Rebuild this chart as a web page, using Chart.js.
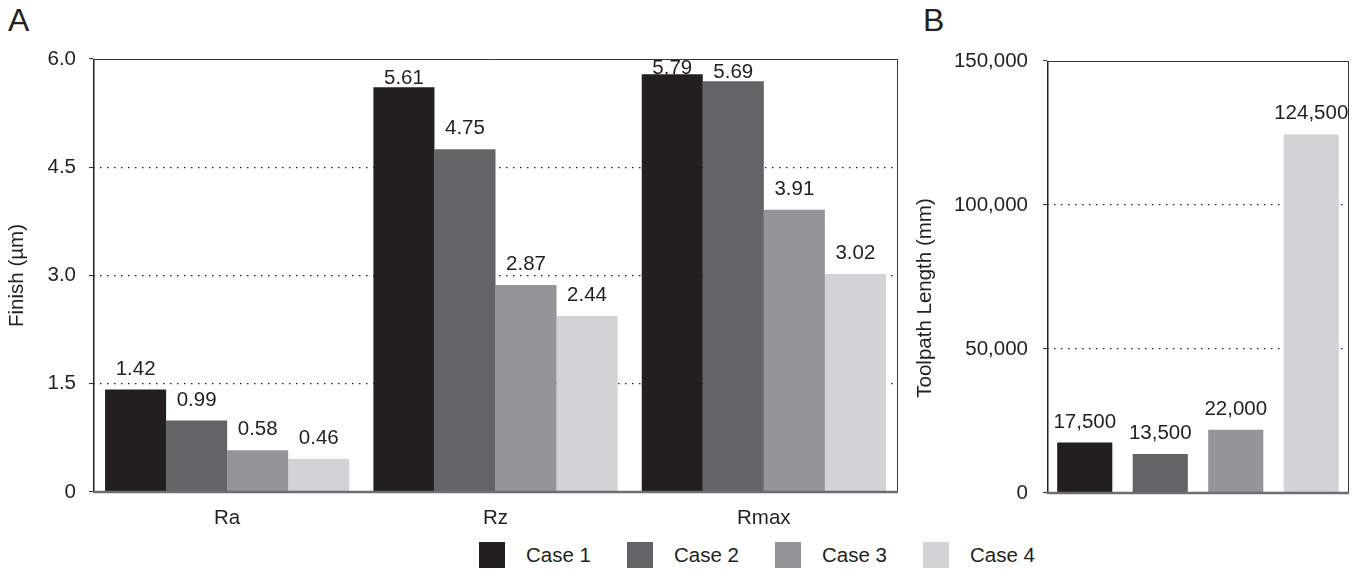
<!DOCTYPE html>
<html>
<head>
<meta charset="utf-8">
<script src="https://cdn.jsdelivr.net/npm/chart.js@4.4.1/dist/chart.umd.min.js"></script>
<style>
  body { margin:0; background:#fff; width:1362px; height:571px; overflow:hidden; position:relative;
         font-family:"Liberation Sans", Arial, Helvetica, sans-serif; color:#231f20; }
  #wrapA { position:absolute; left:0; top:0; width:910px; height:540px; }
  #wrapB { position:absolute; left:900px; top:0; width:462px; height:540px; }
  .letter { position:absolute; top:4px; font-size:32px; line-height:32px; }
  #legend { position:absolute; left:479px; top:542px; display:flex; }
  #legend .item { width:148px; display:flex; align-items:center; height:26px; font-size:20.5px; }
  #legend .sw { width:26px; height:26px; margin-right:21px; flex:none; }
</style>
</head>
<body>
<div class="letter" style="left:8px">A</div>
<div class="letter" style="left:923px">B</div>
<div id="wrapA"><canvas id="chart-finish" width="910" height="540"></canvas></div>
<div id="wrapB"><canvas id="chart-toolpath" width="462" height="540"></canvas></div>
<div id="legend"></div>
<script>
// ---- data ----
const categories   = ['Ra', 'Rz', 'Rmax'];
const caseNames    = ['Case 1', 'Case 2', 'Case 3', 'Case 4'];
const case1Finish  = [1.42, 5.61, 5.79];
const case2Finish  = [0.99, 4.75, 5.69];
const case3Finish  = [0.58, 2.87, 3.91];
const case4Finish  = [0.46, 2.44, 3.02];
const toolpathLen  = [17500, 13500, 22000, 124500];
const finishTicks  = [0, 1.5, 3.0, 4.5, 6.0];
const toolpathTicks = [0, 50000, 100000, 150000];

const CASE_COLORS = ['#231f20', '#636466', '#939598', '#d1d3d4'];
const INK  = '#231f20';
const FONT = '"Liberation Sans", Arial, Helvetica, sans-serif';
const FS   = 20.5;

Chart.defaults.font.family = FONT;
Chart.defaults.color = INK;

const fmtFinish = v => v === 0 ? '0' : v.toFixed(1);
const fmtLen    = v => v.toLocaleString('en-US');

// frame round the plot area: thin top/right, dark left axis, grey base line
const framePlugin = {
  id: 'frame',
  afterDatasetsDraw(chart) {
    const { ctx, chartArea: { left, right, top, bottom } } = chart;
    ctx.save();
    ctx.strokeStyle = '#3a3738';
    ctx.lineWidth = 1;
    ctx.beginPath();
    ctx.moveTo(left, top + 0.5); ctx.lineTo(right, top + 0.5);
    ctx.moveTo(right - 0.5, top); ctx.lineTo(right - 0.5, bottom);
    ctx.stroke();
    ctx.strokeStyle = INK;
    ctx.lineWidth = 1.5;
    ctx.beginPath();
    ctx.moveTo(left + 0.75, top); ctx.lineTo(left + 0.75, bottom + 1);
    ctx.stroke();
    ctx.strokeStyle = '#6d6e71';
    ctx.lineWidth = 2.5;
    ctx.beginPath();
    ctx.moveTo(left, bottom); ctx.lineTo(right, bottom);
    ctx.stroke();
    ctx.restore();
  },
};

// value labels above bars (+ optional rotated side title)
const valueLabels = {
  id: 'valueLabels',
  afterDatasetsDraw(chart, args, opts) {
    const { ctx, chartArea } = chart;
    ctx.save();
    ctx.font = `${FS}px ${FONT}`;
    ctx.fillStyle = INK;
    ctx.textAlign = 'center';
    ctx.textBaseline = 'alphabetic';
    chart.data.datasets.forEach((ds, di) => {
      chart.getDatasetMeta(di).data.forEach((bar, i) => {
        let y = bar.y - 15;
        // no room under the frame: sit just on the bar
        if (y < chartArea.top + 15) y = Math.max(chartArea.top + 15, bar.y - 3);
        ctx.fillText(opts.format(ds.data[i]), bar.x, y);
      });
    });
    if (opts.sideTitle) {
      const t = opts.sideTitle;
      ctx.translate(t.x, t.y);
      ctx.rotate(-Math.PI / 2);
      ctx.textBaseline = 'middle';
      ctx.fillText(t.text, 0, 0);
    }
    ctx.restore();
  },
};

const gridColor = max => c => (c.tick && (c.tick.value === 0 || c.tick.value === max)) ? 'rgba(0,0,0,0)' : INK;

// ---- panel A ----
new Chart(document.getElementById('chart-finish'), {
  type: 'bar',
  data: {
    labels: categories,
    datasets: [case1Finish, case2Finish, case3Finish, case4Finish].map((d, i) => ({
      label: caseNames[i],
      data: d,
      backgroundColor: CASE_COLORS[i],
      borderWidth: 0,
      categoryPercentage: 0.91,
      barPercentage: 1.0,
    })),
  },
  options: {
    responsive: false,
    animation: false,
    layout: { padding: { top: 59, right: 12, left: 0, bottom: 0 } },
    plugins: {
      legend: { display: false },
      tooltip: { enabled: false },
      valueLabels: { format: v => v.toFixed(2) },
    },
    scales: {
      x: {
        grid: { display: false, drawTicks: false },
        border: { display: false },
        ticks: { font: { size: FS }, color: INK, padding: 14 },
        afterFit: s => { s.height = 48; },
      },
      y: {
        min: 0, max: 6,
        afterBuildTicks: s => { s.ticks = finishTicks.map(v => ({ value: v })); },
        afterFit: s => { s.width = 93; },
        grid: { color: gridColor(6), lineWidth: 1.2, tickLength: 4, tickColor: INK, tickWidth: 1 },
        border: { display: false, dash: [1.5, 5.5] },
        ticks: { font: { size: FS }, color: INK, padding: 13, callback: v => fmtFinish(v) },
        title: { display: true, text: 'Finish (µm)', font: { size: FS }, color: INK, padding: { top: 5, bottom: 0 } },
      },
    },
  },
  plugins: [framePlugin, valueLabels],
});

// ---- panel B ----
new Chart(document.getElementById('chart-toolpath'), {
  type: 'bar',
  data: {
    labels: caseNames,
    datasets: [{
      label: 'Toolpath Length',
      data: toolpathLen,
      backgroundColor: CASE_COLORS,
      borderWidth: 0,
      categoryPercentage: 1.0,
      barPercentage: 0.73,
    }],
  },
  options: {
    responsive: false,
    animation: false,
    layout: { padding: { top: 61, right: 13, left: 0, bottom: 0 } },
    plugins: {
      legend: { display: false },
      tooltip: { enabled: false },
      valueLabels: {
        format: fmtLen,
        sideTitle: { text: 'Toolpath Length (mm)', x: 25, y: 298 },
      },
    },
    scales: {
      x: {
        grid: { display: false, drawTicks: false },
        border: { display: false },
        ticks: { display: false },
        afterFit: s => { s.height = 47; },
      },
      y: {
        min: 0, max: 150000,
        afterBuildTicks: s => { s.ticks = toolpathTicks.map(v => ({ value: v })); },
        afterFit: s => { s.width = 147; },
        grid: { color: gridColor(150000), lineWidth: 1.2, tickLength: 4, tickColor: INK, tickWidth: 1 },
        border: { display: false, dash: [1.5, 5.5] },
        ticks: { font: { size: FS }, color: INK, padding: 15, callback: v => fmtLen(v) },
      },
    },
  },
  plugins: [framePlugin, valueLabels],
});

// ---- shared legend ----
document.getElementById('legend').innerHTML = caseNames.map((n, i) =>
  `<div class="item"><div class="sw" style="background:${CASE_COLORS[i]}"></div><span>${n}</span></div>`
).join('');
</script>
</body>
</html>
